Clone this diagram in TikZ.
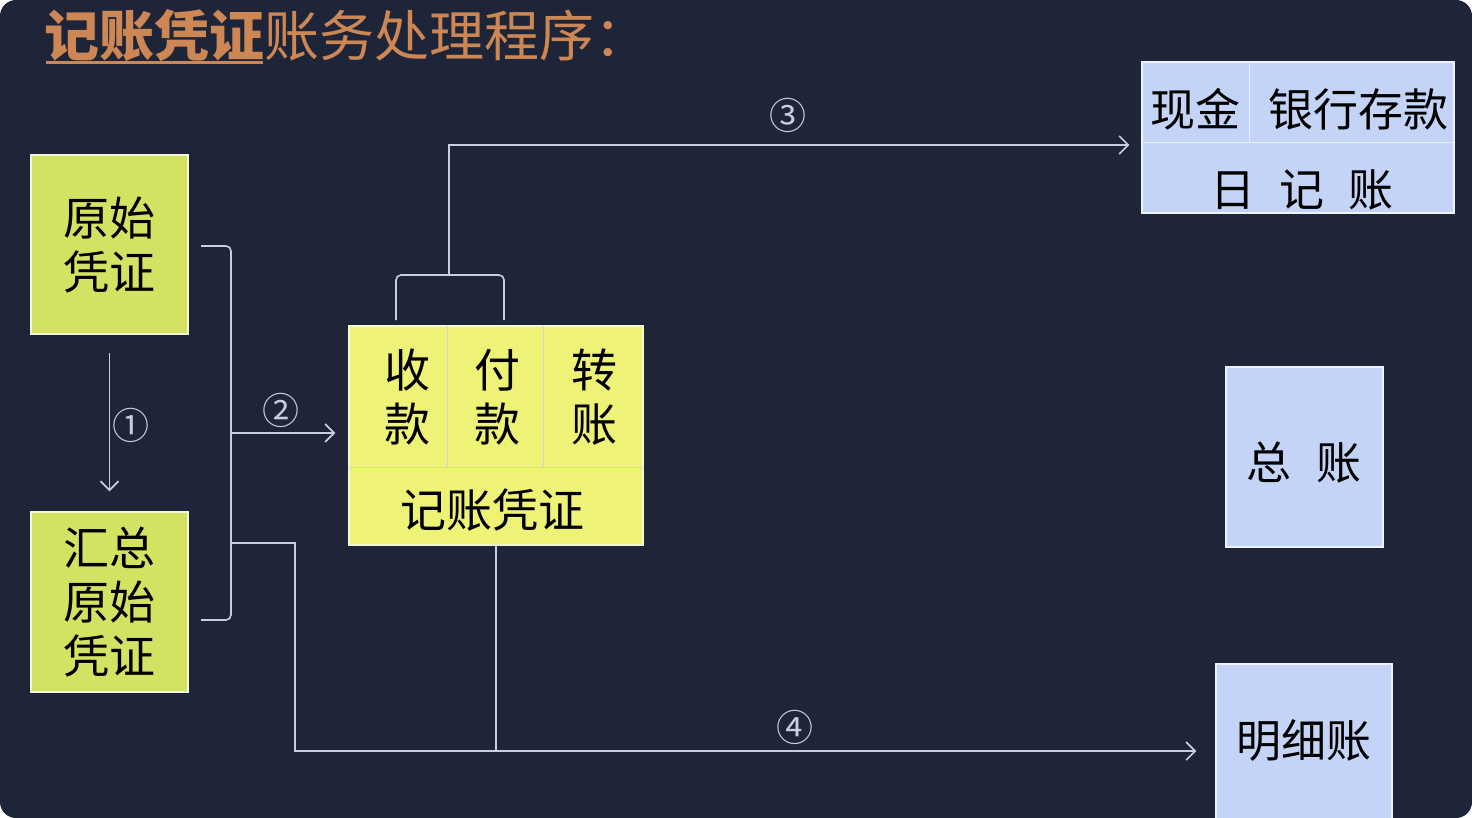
\documentclass[tikz,border=0pt]{standalone}
\usepackage{fontspec}
\newfontfamily\cjk{Noto Sans CJK SC}
\usetikzlibrary{arrows.meta}
\definecolor{bg}{RGB}{31,37,56}
\definecolor{ln}{RGB}{200,206,226}
\definecolor{ylw}{RGB}{212,226,100}
\definecolor{ylwc}{RGB}{238,243,120}
\definecolor{blu}{RGB}{196,212,246}
\definecolor{ttl}{RGB}{205,135,85}
\tikzset{
  box/.style={draw=white!75!ylw, line width=1.5pt, inner sep=0pt, align=center, font=\cjk\fontsize{46}{54}\selectfont, text=black},
  ybox/.style={box, fill=ylw},
  cbox/.style={box, fill=ylwc},
  bbox/.style={box, fill=blu, draw=white!70!blu},
  conn/.style={draw=ln, line width=1.6pt},
  arr/.style={conn, -{Straight Barb[length=9pt,width=18pt,line width=1.6pt]}},
  num/.style={text=ln, font=\cjk\fontsize{37}{37}\selectfont, inner sep=0pt},
  lbl/.style={font=\cjk\fontsize{46}{54}\selectfont, text=black, inner sep=0pt, align=center}
}
\begin{document}
\begin{tikzpicture}[x=1pt,y=-1pt]
\fill[white] (0,0) rectangle (1472,818);
\fill[bg, rounded corners=16pt] (0,0) rectangle (1472,818);
\useasboundingbox (0,0) rectangle (1472,818);
\begin{scope}
\clip[rounded corners=16pt] (0,0) rectangle (1472,818);
% title
\node[anchor=west, inner sep=0pt, text=ttl, font=\cjk\fontsize{55}{60}\selectfont] (title) at (44,36) {{\bfseries 记账凭证}账务处理程序：};
\draw[ttl, line width=3pt] (46,63) -- (263,63);
% left boxes
\node[ybox, minimum width=157pt, minimum height=179pt] (A) at (109.5,244.5) {原始\\凭证};
\node[ybox, minimum width=157pt, minimum height=180pt] (B) at (109.5,602) {汇总\\原始\\凭证};
% center box
\node[cbox, minimum width=294pt, minimum height=219pt] (C) at (496,435.5) {};
\draw[ln!80!ylwc, line width=1pt] (349,467) -- (643,467) (447,326) -- (447,467) (543,326) -- (543,467);
\node[lbl] (c1) at (407,397) {收\\款};
\node[lbl] (c2) at (497,397) {付\\款};
\node[lbl] (c3) at (594,397) {转\\账};
\node[lbl] (c4) at (492,510) {记账凭证};
% journal box
\node[bbox, minimum width=312pt, minimum height=151pt] (J) at (1298,137.5) {};
\draw[white!60!blu, line width=1pt] (1142,143) -- (1454,143) (1249,62) -- (1249,143);
\node[lbl, font=\cjk\fontsize{45}{50}\selectfont] (j1) at (1195,109) {现金};
\node[lbl, font=\cjk\fontsize{45}{50}\selectfont] (j2) at (1358,109) {银行存款};
\node[lbl, font=\cjk\fontsize{45}{50}\selectfont] (j3) at (1302,190) {日\hspace{24pt}记\hspace{24pt}账};
% general ledger
\node[bbox, minimum width=157pt, minimum height=180pt] (G) at (1304.5,457) {};
\node[lbl, font=\cjk\fontsize{45}{50}\selectfont] (g1) at (1304,463) {总\hspace{26pt}账};
% detail ledger
\node[bbox, minimum width=176pt, minimum height=170pt] (M) at (1304,749) {};
\node[lbl, font=\cjk\fontsize{45}{50}\selectfont] (m1) at (1304,740) {明细账};
% arrow 1
\draw[arr] ([yshift=-18pt]A.south) -- ([yshift=20pt]B.north);
\node[num] (n1) at (131,425) {①};
% bracket and arrow 2
\coordinate (b1) at (201,246);
\coordinate (b2) at (231,246);
\coordinate (b3) at (231,620);
\coordinate (b4) at (201,620);
\coordinate (bm) at (231,433);
\draw[conn, rounded corners=5pt] (b1) -- (b2) -- (b3) -- (b4);
\draw[arr] (bm) -- ([xshift=-13pt]C.west |- bm);
\node[num] (n2) at (281,410) {②};
% arrow 3
\coordinate (t1) at (396,320);
\coordinate (t2) at (504,320);
\coordinate (tm) at (449,275);
\draw[conn, rounded corners=5pt] (t1) -- (396,275) -- (504,275) -- (t2);
\draw[arr] (tm) |- ([xshift=-12pt]J.west |- 0,145);
\node[num] (n3) at (788,115) {③};
% arrow 4
\coordinate (d1) at (231,543);
\draw[arr] (d1) -- (295,543) |- ([xshift=-19pt]M.west |- 0,751);
\draw[conn] (C.south) -- (C.south |- 0,751);
\node[num] (n4) at (795,727) {④};
\end{scope}
\end{tikzpicture}
\end{document}
